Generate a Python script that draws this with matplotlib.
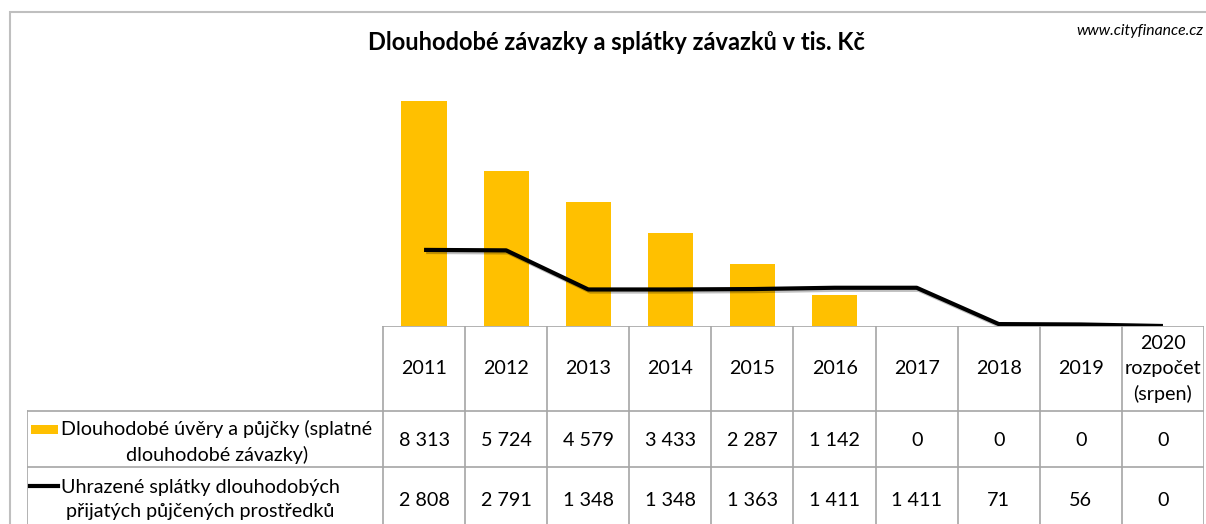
import matplotlib.pyplot as plt
import matplotlib.patheffects as pe
from matplotlib.patches import Rectangle
from matplotlib.lines import Line2D

plt.rcParams['font.family'] = ['Lato', 'DejaVu Sans']

years = ['2011', '2012', '2013', '2014', '2015', '2016', '2017', '2018', '2019',
         '2020\nrozpočet\n(srpen)']
uvery = [8313, 5724, 4579, 3433, 2287, 1142, 0, 0, 0, 0]
splatky = [2808, 2791, 1348, 1348, 1363, 1411, 1411, 71, 56, 0]
series_names = ['Dlouhodobé úvěry a půjčky (splatné\ndlouhodobé závazky)',
                'Uhrazené splátky dlouhodobých\npřijatých půjčených prostředků']

W, H = 1206, 524
fig = plt.figure(figsize=(W / 100, H / 100), dpi=100)
bar_color = '#FFC000'
grid_color = '#A6A6A6'

def fx(px):
    return px / W

def fy(py):
    return 1 - py / H

# chart outer border
fig.patches.append(Rectangle((fx(10), fy(560)), fx(1300), fy(12) - fy(560),
                             transform=fig.transFigure, fill=False,
                             edgecolor='#BFBFBF', lw=1.5))

fig.text(fx(616), fy(43), 'Dlouhodobé závazky a splátky závazků v tis. Kč',
         ha='center', va='center', fontsize=17, fontweight='bold')
fig.text(fx(1203), fy(31), 'www.cityfinance.cz', ha='right', va='center',
         fontsize=11.3, style='italic')

# plot area
x0, x1, ytop, ybot = 383, 1204, 55, 326
ax = fig.add_axes([fx(x0), fy(ybot), fx(x1 - x0), fy(ytop) - fy(ybot)])
xs = list(range(len(years)))
ax.bar(xs, uvery, width=0.55, color=bar_color, zorder=2)
ax.plot(xs, splatky, color='black', lw=3, zorder=3, solid_capstyle='butt',
        path_effects=[pe.SimpleLineShadow(offset=(1.5, -1.5), alpha=0.25),
                      pe.Normal()])
ax.set_xlim(-0.5, len(years) - 0.5)
ax.set_ylim(0, 10000)
ax.axis('off')

# data table
colw = (x1 - x0) / len(years)
left_units = (x0 - 27) / colw
tab = fig.add_axes([fx(27), 0, fx(x1 - 27), fy(ybot)])
tab.set_xlim(-0.5 - left_units, len(years) - 0.5)
tab.set_ylim(H, ybot)
tab.axis('off')

lk = dict(color=grid_color, lw=1.2)
for i in range(len(years) + 1):
    tab.plot([i - 0.5, i - 0.5], [ybot, H], **lk)
tab.plot([-0.5 - left_units, -0.5 - left_units], [411, H], **lk)
tab.plot([-0.5, len(years) - 0.5], [ybot, ybot], **lk)
for yy in (411, 467):
    tab.plot([-0.5 - left_units, len(years) - 0.5], [yy, yy], **lk)

fs = 14.2
for i, lab in enumerate(years):
    tab.text(i, 369, lab, ha='center', va='center', fontsize=fs, linespacing=1.55)
    tab.text(i, 441, f'{uvery[i]:,}'.replace(',', ' '), ha='center', va='center', fontsize=fs)
    tab.text(i, 500, f'{splatky[i]:,}'.replace(',', ' '), ha='center', va='center', fontsize=fs)

u = lambda px: -0.5 - left_units + (px - 27) / colw
tab.text(u(61), 442, series_names[0], ha='left', va='center', multialignment='center',
         fontsize=fs, linespacing=1.5)
tab.text(u(61), 499, series_names[1], ha='left', va='center', multialignment='center',
         fontsize=fs, linespacing=1.5)
tab.add_patch(Rectangle((u(31), 425), u(58) - u(31), 9, color=bar_color, lw=0))
tab.add_line(Line2D([u(30), u(58)], [486, 486], color='black', lw=3))

fig.savefig('out.png', dpi=100)
